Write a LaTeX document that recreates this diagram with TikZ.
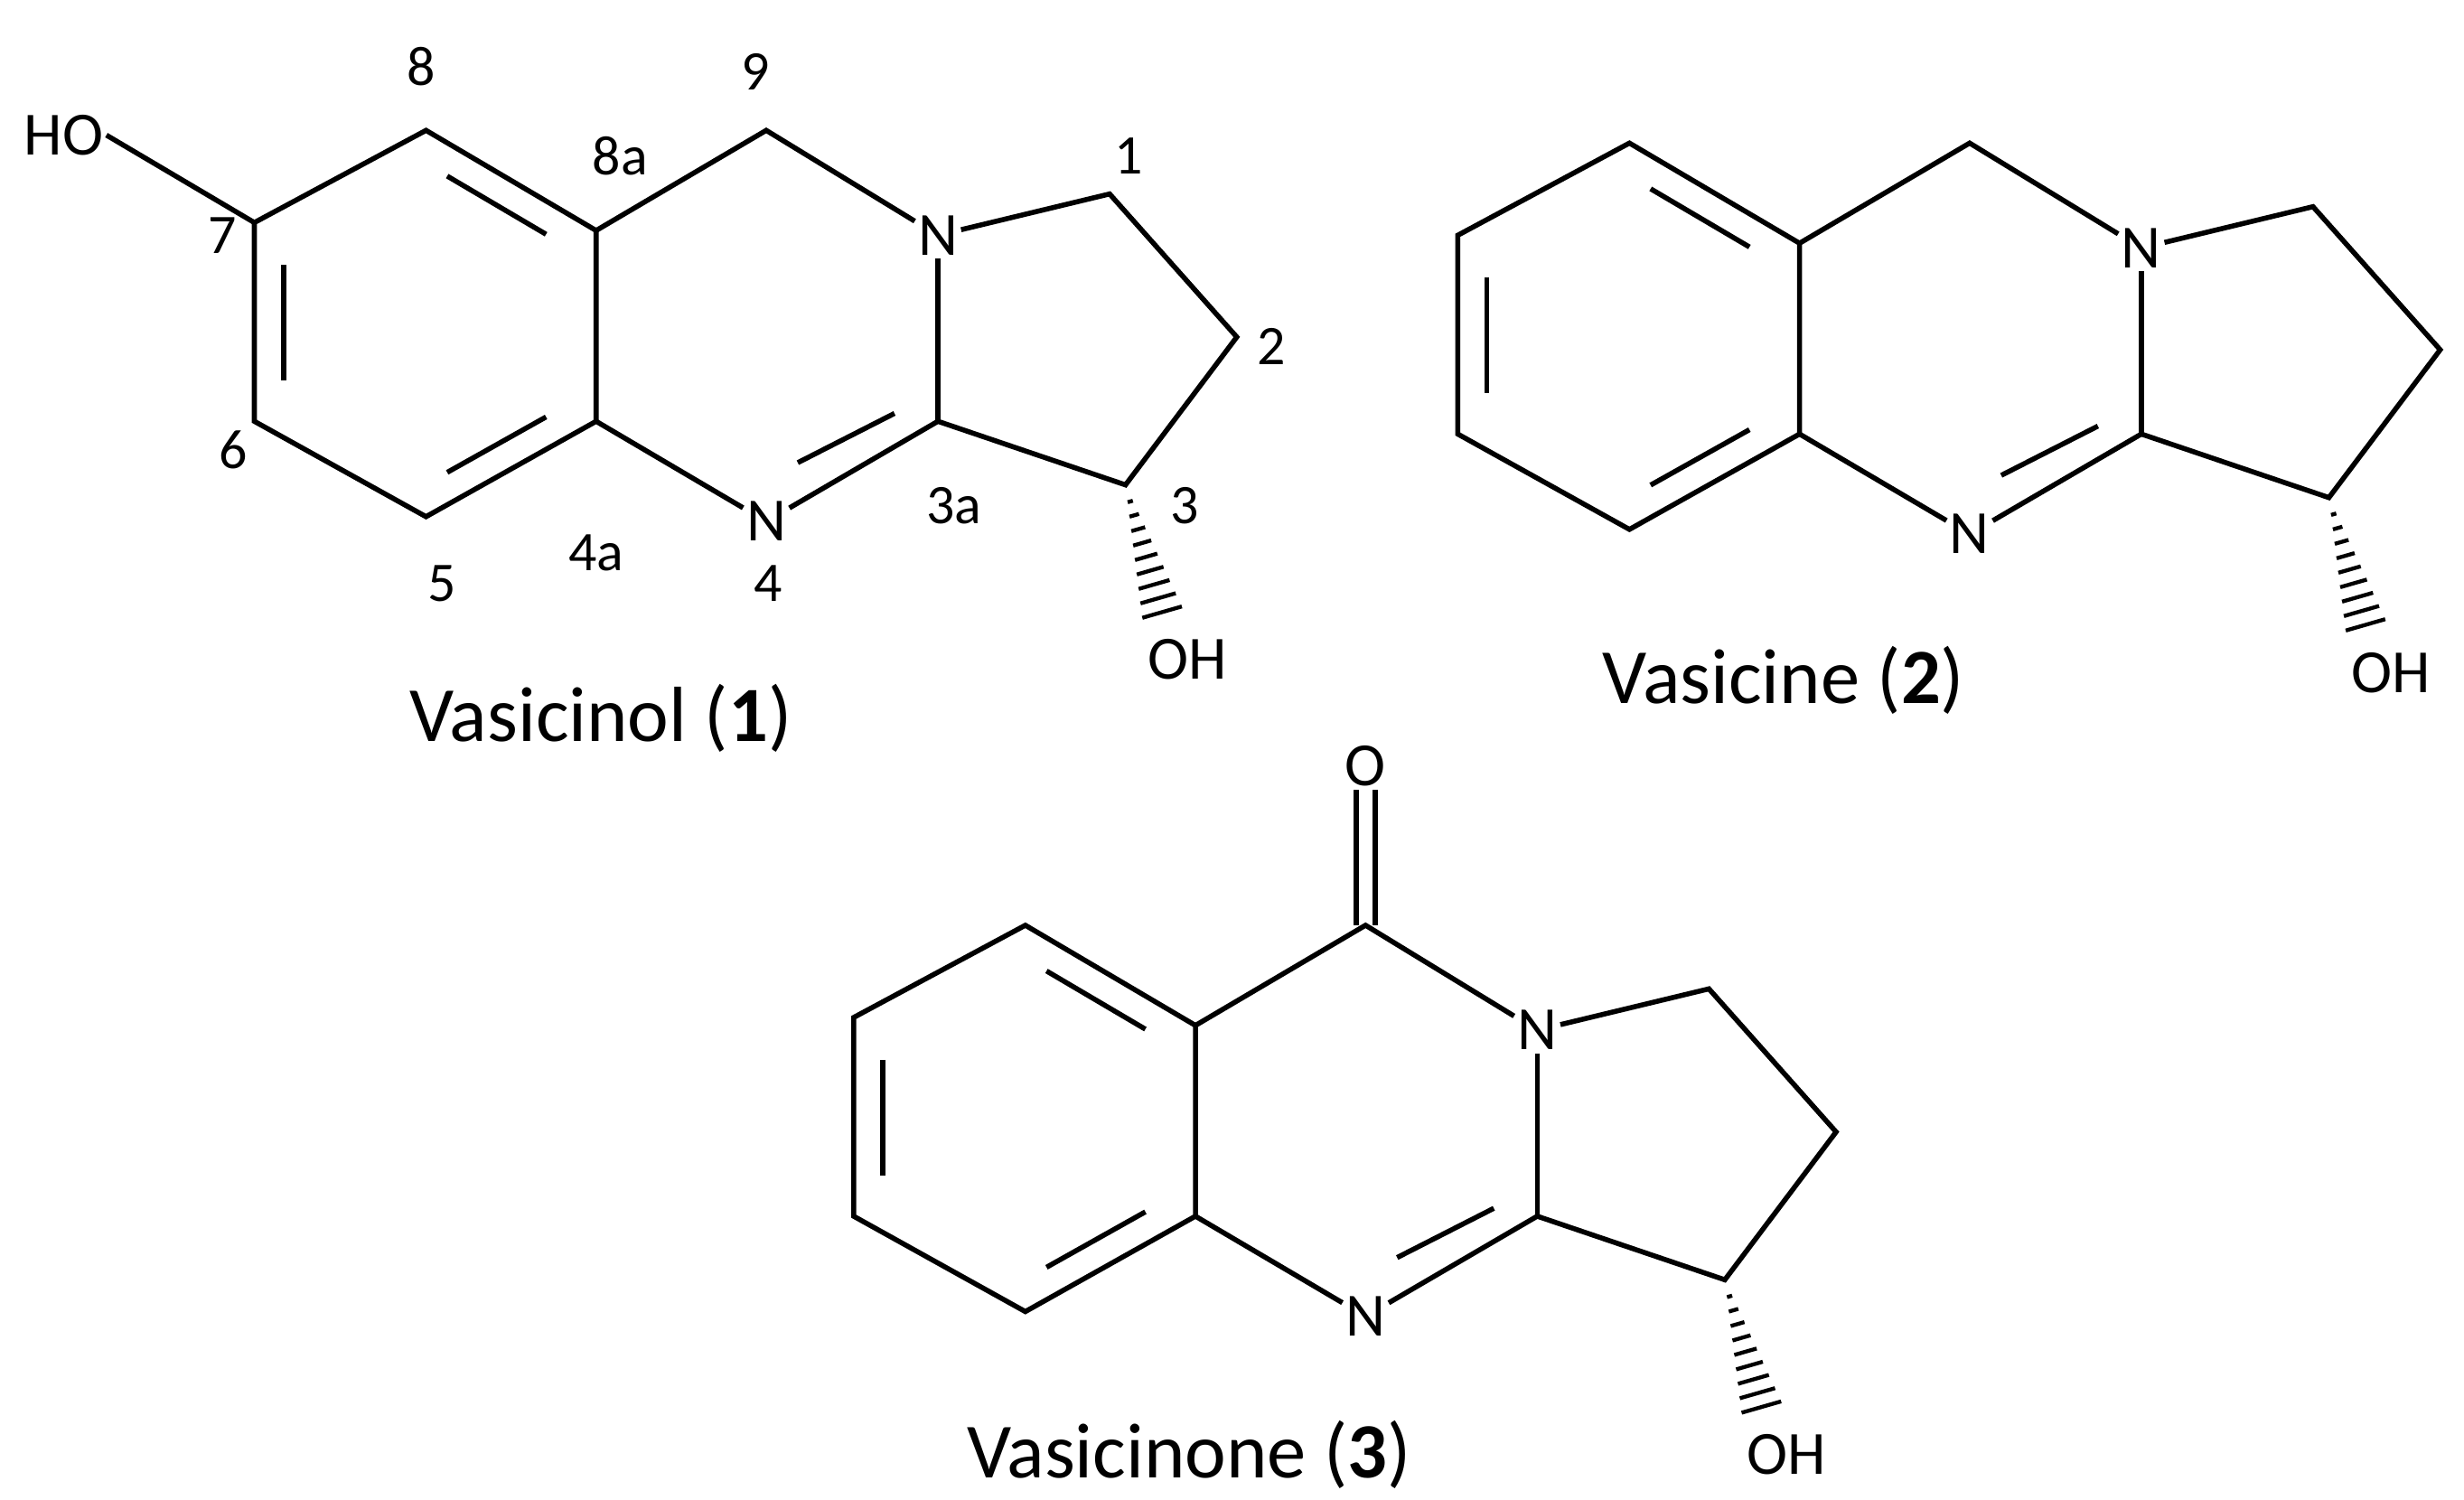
\documentclass[tikz,border=0pt]{standalone}
\usepackage{fontspec}
\setmainfont{Carlito}
\usetikzlibrary{calc}
\tikzset{
  bond/.style={line width=1.8pt},
  atom/.style={inner sep=1pt,font=\fontsize{22}{24}\selectfont},
  num/.style={inner sep=0pt,font=\fontsize{20}{22}\selectfont},
  title/.style={inner sep=0pt,font=\fontsize{28}{32}\selectfont}
}
\newcommand{\mol}[1]{%
  \coordinate (#1c8) at (268,82);
  \coordinate (#1c8a) at (375,145);
  \coordinate (#1c4a) at (375,265);
  \coordinate (#1c5) at (268,325);
  \coordinate (#1c6) at (160,265);
  \coordinate (#1c7) at (160,140);
  \coordinate (#1bz) at (268,205);
  \coordinate (#1py) at (482,205);
  \coordinate (#1c9) at (482,82);
  \node[atom] (#1N) at (590,148) {N};
  \node[atom] (#1N4) at (482,328) {N};
  \coordinate (#1c3a) at (590,265);
  \coordinate (#1c1) at (698,122);
  \coordinate (#1c2) at (778,212);
  \coordinate (#1c3) at (708,305);
  \coordinate (#1oe) at (733,392);
  \node[atom,anchor=west] (#1OH) at (720,415) {OH};
  \draw[bond] (#1c8)--(#1c8a)--(#1c4a)--(#1c5)--(#1c6)--(#1c7)--cycle;
  \draw[bond] ($(#1c8)!0.15!(#1c8a)!0.17!(#1bz)$)--($(#1c8a)!0.15!(#1c8)!0.17!(#1bz)$);
  \draw[bond] ($(#1c7)!0.15!(#1c6)!0.17!(#1bz)$)--($(#1c6)!0.15!(#1c7)!0.17!(#1bz)$);
  \draw[bond] ($(#1c5)!0.15!(#1c4a)!0.17!(#1bz)$)--($(#1c4a)!0.15!(#1c5)!0.17!(#1bz)$);
  \draw[bond] (#1c8a)--(#1c9)--(#1N);
  \draw[bond] (#1N)--(#1c3a);
  \draw[bond] (#1c4a)--(#1N4)--(#1c3a);
  \draw[bond] ($(#1N4.north east)!0.1!(#1c3a)!0.17!(#1py)$)--($(#1c3a)!0.1!(#1N4)!0.17!(#1py)$);
  \draw[bond] (#1N)--(#1c1)--(#1c2)--(#1c3)--(#1c3a);
  \foreach \t in {0.12,0.22,...,0.95}{
    \draw[line width=1.4pt] ($($(#1c3)!\t!(#1oe)$)!{\t*8pt}!90:(#1oe)$)--($($(#1c3)!\t!(#1oe)$)!{\t*8pt}!-90:(#1oe)$);
  }
}
\begin{document}
\begin{tikzpicture}[x=0.02cm,y=-0.02cm]
\useasboundingbox (0,0) rectangle (1550,943);
% molecule 1
\begin{scope}
\mol{a}
\node[atom] (aHO) at (40,85) {HO};
\draw[bond] (aHO.east)--(ac7);
\node[num] (n8) at (265,42) {8};
\node[num] (n9) at (475,45) {9};
\node[num] (n8a) at (390,98) {8a};
\node[num] (n1) at (710,98) {1};
\node[num] (n7) at (140,148) {7};
\node[num] (n6) at (147,283) {6};
\node[num] (n2) at (800,218) {2};
\node[num] (n4a) at (375,348) {4a};
\node[num] (n5) at (278,367) {5};
\node[num] (n3a) at (600,318) {3a};
\node[num] (n3) at (745,318) {3};
\node[num] (n4) at (483,367) {4};
\node[title] (t1) at (378,452) {Vasicinol (\textbf{1})};
\end{scope}
% molecule 2
\begin{scope}[shift={(757,8)}]
\mol{b}
\node[title] (t2) at (365,420) {Vasicine (\textbf{2})};
\end{scope}
% molecule 3
\begin{scope}[shift={(377,500)}]
\mol{c}
\node[atom] (cO) at (482,-18) {O};
\draw[bond] ($(cc9)+(-6,0)$)--($(cO.south)+(-6,0)$);
\draw[bond] ($(cc9)+(6,0)$)--($(cO.south)+(6,0)$);
\node[title] (t3) at (371,415) {Vasicinone (\textbf{3})};
\end{scope}
\end{tikzpicture}
\end{document}
